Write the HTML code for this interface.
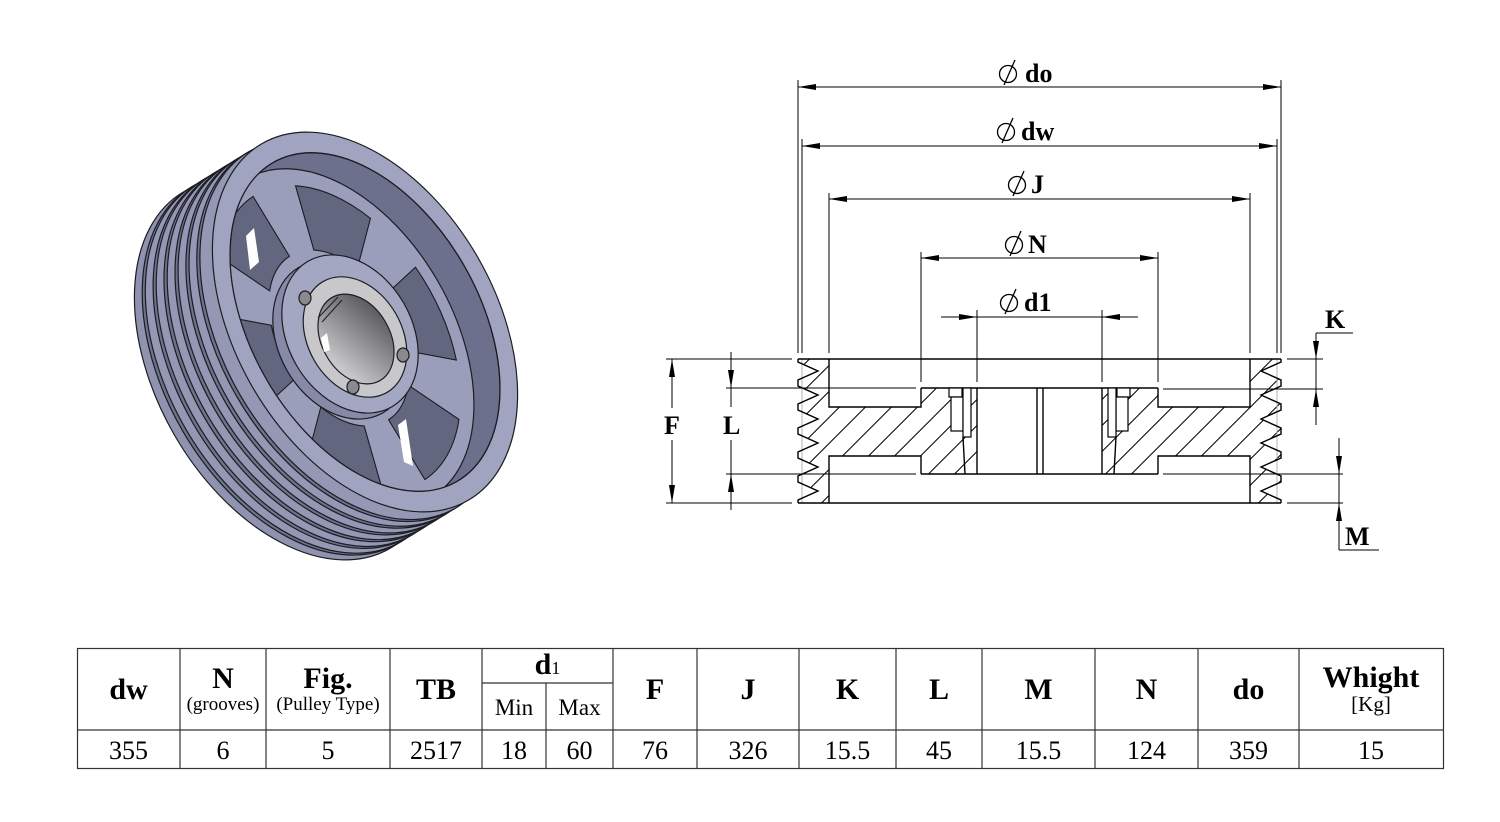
<!DOCTYPE html>
<html><head><meta charset="utf-8"><style>
html,body{margin:0;padding:0;background:#fff;}
svg{display:block;}
text{font-family:"Liberation Serif",serif;fill:#000;}
</style></head><body>
<svg width="1500" height="822" viewBox="0 0 1500 822" xmlns="http://www.w3.org/2000/svg">
<defs>
  <linearGradient id="boreG" x1="0" y1="0" x2="0.5" y2="1">
    <stop offset="0" stop-color="#4a4a4e"/>
    <stop offset="0.55" stop-color="#8e8e92"/>
    <stop offset="1" stop-color="#c8c8ca"/>
  </linearGradient>
  <clipPath id="innerClip"><ellipse transform="translate(365,322) rotate(60)" rx="184" ry="114"/></clipPath>
  <pattern id="hatchL" patternUnits="userSpaceOnUse" x="24.5" y="0" width="26" height="26">
    <path d="M0,26 L26,0 M-2,2 L2,-2 M24,28 L28,24" stroke="#000" stroke-width="1"/>
  </pattern>
  <pattern id="hatchR" patternUnits="userSpaceOnUse" x="19.5" y="0" width="26" height="26">
    <path d="M0,26 L26,0 M-2,2 L2,-2 M24,28 L28,24" stroke="#000" stroke-width="1"/>
  </pattern>
</defs>

<rect width="1500" height="822" fill="#fff"/>

<!-- ============ 3D PULLEY ============ -->
<g stroke="#1c1c22" stroke-width="1.2">
  <ellipse transform="translate(287,370) rotate(60)" rx="206" ry="130" fill="#8f93af"/>
  <ellipse transform="translate(294.8,365.2) rotate(60)" rx="206" ry="130" fill="#6e728d"/>
  <ellipse transform="translate(297.9,363.3) rotate(60)" rx="206" ry="130" fill="#9498b4"/>
  <ellipse transform="translate(305.7,358.5) rotate(60)" rx="206" ry="130" fill="#6e728d"/>
  <ellipse transform="translate(308.8,356.6) rotate(60)" rx="206" ry="130" fill="#9498b4"/>
  <ellipse transform="translate(316.6,351.8) rotate(60)" rx="206" ry="130" fill="#6e728d"/>
  <ellipse transform="translate(319.8,349.8) rotate(60)" rx="206" ry="130" fill="#9498b4"/>
  <ellipse transform="translate(327.6,345.0) rotate(60)" rx="206" ry="130" fill="#6e728d"/>
  <ellipse transform="translate(330.7,343.1) rotate(60)" rx="206" ry="130" fill="#9498b4"/>
  <ellipse transform="translate(338.5,338.3) rotate(60)" rx="206" ry="130" fill="#6e728d"/>
  <ellipse transform="translate(341.6,336.4) rotate(60)" rx="206" ry="130" fill="#9498b4"/>
  <ellipse transform="translate(349.4,331.6) rotate(60)" rx="206" ry="130" fill="#6e728d"/>
  <ellipse transform="translate(352.5,329.7) rotate(60)" rx="206" ry="130" fill="#9498b4"/>
  <!-- front rim face -->
  <ellipse transform="translate(365,322) rotate(60)" rx="206" ry="130" fill="#a0a4c0"/>
  <!-- interior recess -->
  <ellipse transform="translate(365,322) rotate(60)" rx="184" ry="114" fill="#6c708d"/>
</g>
<g clip-path="url(#innerClip)">
  <ellipse transform="translate(339,338) rotate(60)" rx="184" ry="114" fill="#9a9ebb" stroke="#1c1c22" stroke-width="1.2"/>
  <g transform="translate(339,338) rotate(60) scale(184,114)" fill="#62667f" stroke="#1c1c22" stroke-width="1.1">
    <path vector-effect="non-scaling-stroke" transform="rotate(40)" d="M0.4945,-0.1607 L0.856,-0.278 A0.9,0.9 0 0 1 0.856,0.278 L0.4945,0.1607 A0.52,0.52 0 0 0 0.4945,-0.1607 Z"/>
    <path vector-effect="non-scaling-stroke" transform="rotate(100)" d="M0.4945,-0.1607 L0.856,-0.278 A0.9,0.9 0 0 1 0.856,0.278 L0.4945,0.1607 A0.52,0.52 0 0 0 0.4945,-0.1607 Z"/>
    <path vector-effect="non-scaling-stroke" transform="rotate(160)" d="M0.4945,-0.1607 L0.856,-0.278 A0.9,0.9 0 0 1 0.856,0.278 L0.4945,0.1607 A0.52,0.52 0 0 0 0.4945,-0.1607 Z"/>
    <path vector-effect="non-scaling-stroke" transform="rotate(220)" d="M0.4945,-0.1607 L0.856,-0.278 A0.9,0.9 0 0 1 0.856,0.278 L0.4945,0.1607 A0.52,0.52 0 0 0 0.4945,-0.1607 Z"/>
    <path vector-effect="non-scaling-stroke" transform="rotate(280)" d="M0.4945,-0.1607 L0.856,-0.278 A0.9,0.9 0 0 1 0.856,0.278 L0.4945,0.1607 A0.52,0.52 0 0 0 0.4945,-0.1607 Z"/>
    <path vector-effect="non-scaling-stroke" transform="rotate(340)" d="M0.4945,-0.1607 L0.856,-0.278 A0.9,0.9 0 0 1 0.856,0.278 L0.4945,0.1607 A0.52,0.52 0 0 0 0.4945,-0.1607 Z"/>
  </g>
  <polygon points="246,236 254,228 259,262 250,270" fill="#fff"/>
  <polygon points="398,425 406,419 413,466 404,462" fill="#fff"/>
</g>
<ellipse transform="translate(365,322) rotate(60)" rx="184" ry="114" fill="none" stroke="#1c1c22" stroke-width="1.2"/>
<!-- hub -->
<g stroke="#1c1c22" stroke-width="1.2">
  <ellipse transform="translate(341,340) rotate(60)" rx="84" ry="62" fill="#868aa6"/>
  <ellipse transform="translate(350,334) rotate(60)" rx="84" ry="62" fill="#a3a7c2"/>
  <ellipse transform="translate(355,337) rotate(60)" rx="64" ry="47" fill="#c8c8cb"/>
  <ellipse transform="translate(356,339) rotate(60)" rx="48" ry="34" fill="url(#boreG)"/>
  <line x1="318" y1="318" x2="338" y2="297" stroke-width="1"/>
  <line x1="322" y1="322" x2="342" y2="300" stroke-width="1"/>
  <ellipse cx="305" cy="298" rx="6" ry="7" fill="#8a8a8e"/>
  <ellipse cx="403" cy="355" rx="6" ry="7" fill="#8a8a8e"/>
  <ellipse cx="353" cy="387" rx="6" ry="7" fill="#8a8a8e"/>
</g>
<polygon points="321,338 327,333 330,350 324,352" fill="#fff"/>

<!-- ============ CROSS SECTION ============ -->
<!-- hatching -->
<path fill="url(#hatchL)" d="M798,359 L798,362 L818,371 L798,380 L798,386 L818,395 L798,404 L798,410 L818,419 L798,428 L798,434 L818,443 L798,452 L798,458 L818,467 L798,476 L798,482 L818,491 L798,500 L798,503 L829,503 L829,456 L921,456 L921,474 L977,474 L977,388 L921,388 L921,407 L829,407 L829,359 Z"/>
<path fill="url(#hatchR)" d="M1281,359 L1281,362 L1261,371 L1281,380 L1281,386 L1261,395 L1281,404 L1281,410 L1261,419 L1281,428 L1281,434 L1261,443 L1281,452 L1281,458 L1261,467 L1281,476 L1281,482 L1261,491 L1281,500 L1281,503 L1250,503 L1250,456 L1158,456 L1158,474 L1102,474 L1102,388 L1158,388 L1158,407 L1250,407 L1250,359 Z"/>

<!-- faint dw reference lines -->
<g stroke="#b4b4b4" stroke-width="1">
  <line x1="802" y1="359" x2="802" y2="503"/>
  <line x1="1277" y1="359" x2="1277" y2="503"/>
</g>

<!-- outline -->
<g stroke="#000" stroke-width="1.4" fill="none">
  <line x1="798" y1="359" x2="1281" y2="359"/>
  <line x1="798" y1="503" x2="1281" y2="503"/>
  <path d="M798,359 L798,362 L818,371 L798,380 L798,386 L818,395 L798,404 L798,410 L818,419 L798,428 L798,434 L818,443 L798,452 L798,458 L818,467 L798,476 L798,482 L818,491 L798,500 L798,503"/>
  <path d="M1281,359 L1281,362 L1261,371 L1281,380 L1281,386 L1261,395 L1281,404 L1281,410 L1261,419 L1281,428 L1281,434 L1261,443 L1281,452 L1281,458 L1261,467 L1281,476 L1281,482 L1261,491 L1281,500 L1281,503"/>
  <path d="M829,359 L829,407 L921,407 L921,388"/>
  <path d="M829,503 L829,456 L921,456 L921,474"/>
  <path d="M1250,359 L1250,407 L1158,407 L1158,388"/>
  <path d="M1250,503 L1250,456 L1158,456 L1158,474"/>
  <line x1="921" y1="388" x2="1158" y2="388"/>
  <line x1="921" y1="474" x2="1158" y2="474"/>
  <line x1="977" y1="388" x2="977" y2="474"/>
  <line x1="1102" y1="388" x2="1102" y2="474"/>
  <line x1="1037" y1="388" x2="1037" y2="474"/>
  <line x1="1043" y1="388" x2="1043" y2="474"/>
  <line x1="963" y1="437" x2="965" y2="474"/>
  <line x1="1116" y1="437" x2="1114" y2="474"/>
</g>
<g stroke="#000" stroke-width="1.2" fill="#fff">
  <rect x="949" y="388" width="13" height="9"/>
  <rect x="951" y="397" width="12" height="34"/>
  <rect x="963" y="388" width="8" height="49"/>
  <rect x="1117" y="388" width="13" height="9"/>
  <rect x="1116" y="397" width="12" height="34"/>
  <rect x="1108" y="388" width="8" height="49"/>
</g>

<!-- extension lines -->
<g stroke="#000" stroke-width="1">
  <line x1="798" y1="80" x2="798" y2="353"/>
  <line x1="802" y1="139" x2="802" y2="353"/>
  <line x1="829" y1="193" x2="829" y2="353"/>
  <line x1="921" y1="252" x2="921" y2="382"/>
  <line x1="977" y1="310" x2="977" y2="382"/>
  <line x1="1102" y1="310" x2="1102" y2="382"/>
  <line x1="1158" y1="252" x2="1158" y2="382"/>
  <line x1="1250" y1="193" x2="1250" y2="353"/>
  <line x1="1277" y1="139" x2="1277" y2="353"/>
  <line x1="1281" y1="80" x2="1281" y2="353"/>

  <line x1="666" y1="359" x2="792" y2="359"/>
  <line x1="1287" y1="359" x2="1323" y2="359"/>
  <line x1="726" y1="388" x2="916" y2="388"/>
  <line x1="1163" y1="389" x2="1323" y2="389"/>
  <line x1="726" y1="474" x2="916" y2="474"/>
  <line x1="1163" y1="474" x2="1343" y2="474"/>
  <line x1="666" y1="503" x2="792" y2="503"/>
  <line x1="1287" y1="503" x2="1343" y2="503"/>

  <!-- dimension lines -->
  <line x1="798" y1="87" x2="1281" y2="87"/>
  <line x1="802" y1="146" x2="1277" y2="146"/>
  <line x1="829" y1="199" x2="1250" y2="199"/>
  <line x1="921" y1="258" x2="1158" y2="258"/>
  <line x1="941" y1="317" x2="1138" y2="317"/>

  <line x1="672" y1="359" x2="672" y2="408"/>
  <line x1="672" y1="440" x2="672" y2="503"/>
  <line x1="731" y1="352" x2="731" y2="407"/>
  <line x1="731" y1="440" x2="731" y2="510"/>
  <line x1="1316" y1="333" x2="1316" y2="425"/>
  <line x1="1316" y1="333" x2="1353" y2="333"/>
  <line x1="1339" y1="438" x2="1339" y2="550"/>
  <line x1="1339" y1="550" x2="1379" y2="550"/>
</g>

<!-- arrowheads -->
<g fill="#000">
  <polygon points="798,87 816,84 816,90"/>
  <polygon points="1281,87 1263,84 1263,90"/>
  <polygon points="802,146 820,143 820,149"/>
  <polygon points="1277,146 1259,143 1259,149"/>
  <polygon points="829,199 847,196 847,202"/>
  <polygon points="1250,199 1232,196 1232,202"/>
  <polygon points="921,258 939,255 939,261"/>
  <polygon points="1158,258 1140,255 1140,261"/>
  <polygon points="977,317 959,314 959,320"/>
  <polygon points="1102,317 1120,314 1120,320"/>

  <polygon points="672,359 669,377 675,377"/>
  <polygon points="672,503 669,485 675,485"/>
  <polygon points="731,388 728,370 734,370"/>
  <polygon points="731,474 728,492 734,492"/>
  <polygon points="1316,359 1313,341 1319,341"/>
  <polygon points="1316,389 1313,407 1319,407"/>
  <polygon points="1339,474 1336,456 1342,456"/>
  <polygon points="1339,503 1336,521 1342,521"/>
</g>

<!-- diameter symbols -->
<g stroke="#000" stroke-width="1.3" fill="none">
  <circle cx="1008" cy="74" r="8.5"/><line x1="1004" y1="85" x2="1015" y2="60"/>
  <circle cx="1006" cy="132" r="8.5"/><line x1="1002" y1="143" x2="1013" y2="118"/>
  <circle cx="1017" cy="185" r="8.5"/><line x1="1013" y1="196" x2="1024" y2="171"/>
  <circle cx="1014" cy="245" r="8.5"/><line x1="1010" y1="256" x2="1021" y2="231"/>
  <circle cx="1009" cy="303" r="8.5"/><line x1="1005" y1="314" x2="1016" y2="289"/>
</g>
<g font-weight="bold" font-size="26">
  <text x="1025" y="82">do</text>
  <text x="1021" y="140">dw</text>
  <text x="1031" y="193">J</text>
  <text x="1028" y="253">N</text>
  <text x="1024" y="311">d1</text>
  <text x="664" y="434">F</text>
  <text x="723" y="434">L</text>
  <text x="1325" y="328">K</text>
  <text x="1345" y="545">M</text>
</g>

<!-- ============ TABLE ============ -->
<g stroke="#333" stroke-width="1.2" fill="none">
  <rect x="77.5" y="648.5" width="1366" height="120"/>
  <line x1="77" y1="730" x2="1443" y2="730"/>
  <line x1="482" y1="683" x2="613" y2="683"/>
  <line x1="180" y1="649" x2="180" y2="768"/>
  <line x1="266" y1="649" x2="266" y2="768"/>
  <line x1="390" y1="649" x2="390" y2="768"/>
  <line x1="482" y1="649" x2="482" y2="768"/>
  <line x1="546" y1="683" x2="546" y2="768"/>
  <line x1="613" y1="649" x2="613" y2="768"/>
  <line x1="697" y1="649" x2="697" y2="768"/>
  <line x1="799" y1="649" x2="799" y2="768"/>
  <line x1="896" y1="649" x2="896" y2="768"/>
  <line x1="982" y1="649" x2="982" y2="768"/>
  <line x1="1095" y1="649" x2="1095" y2="768"/>
  <line x1="1198" y1="649" x2="1198" y2="768"/>
  <line x1="1299" y1="649" x2="1299" y2="768"/>
</g>
<g text-anchor="middle">
  <g font-weight="bold" font-size="30">
    <text x="128.5" y="699">dw</text>
    <text x="223" y="688">N</text>
    <text x="328" y="688">Fig.</text>
    <text x="436" y="699">TB</text>
    <text x="655" y="699">F</text>
    <text x="748" y="699">J</text>
    <text x="847.5" y="699">K</text>
    <text x="939" y="699">L</text>
    <text x="1038.5" y="699">M</text>
    <text x="1146.5" y="699">N</text>
    <text x="1248.5" y="699">do</text>
    <text x="1371" y="687">Whight</text>
  </g>
  <text x="547.5" y="674"><tspan font-weight="bold" font-size="30">d</tspan><tspan font-size="18">1</tspan></text>
  <g font-size="19">
    <text x="223" y="710">(grooves)</text>
    <text x="328" y="710">(Pulley Type)</text>
  </g>
  <text x="1371" y="711" font-size="21">[Kg]</text>
  <g font-size="23">
    <text x="514" y="715">Min</text>
    <text x="579.5" y="715">Max</text>
  </g>
  <g font-size="26">
    <text x="128.5" y="759">355</text>
    <text x="223" y="759">6</text>
    <text x="328" y="759">5</text>
    <text x="436" y="759">2517</text>
    <text x="514" y="759">18</text>
    <text x="579.5" y="759">60</text>
    <text x="655" y="759">76</text>
    <text x="748" y="759">326</text>
    <text x="847.5" y="759">15.5</text>
    <text x="939" y="759">45</text>
    <text x="1038.5" y="759">15.5</text>
    <text x="1146.5" y="759">124</text>
    <text x="1248.5" y="759">359</text>
    <text x="1371" y="759">15</text>
  </g>
</g>
</svg>
</body></html>
